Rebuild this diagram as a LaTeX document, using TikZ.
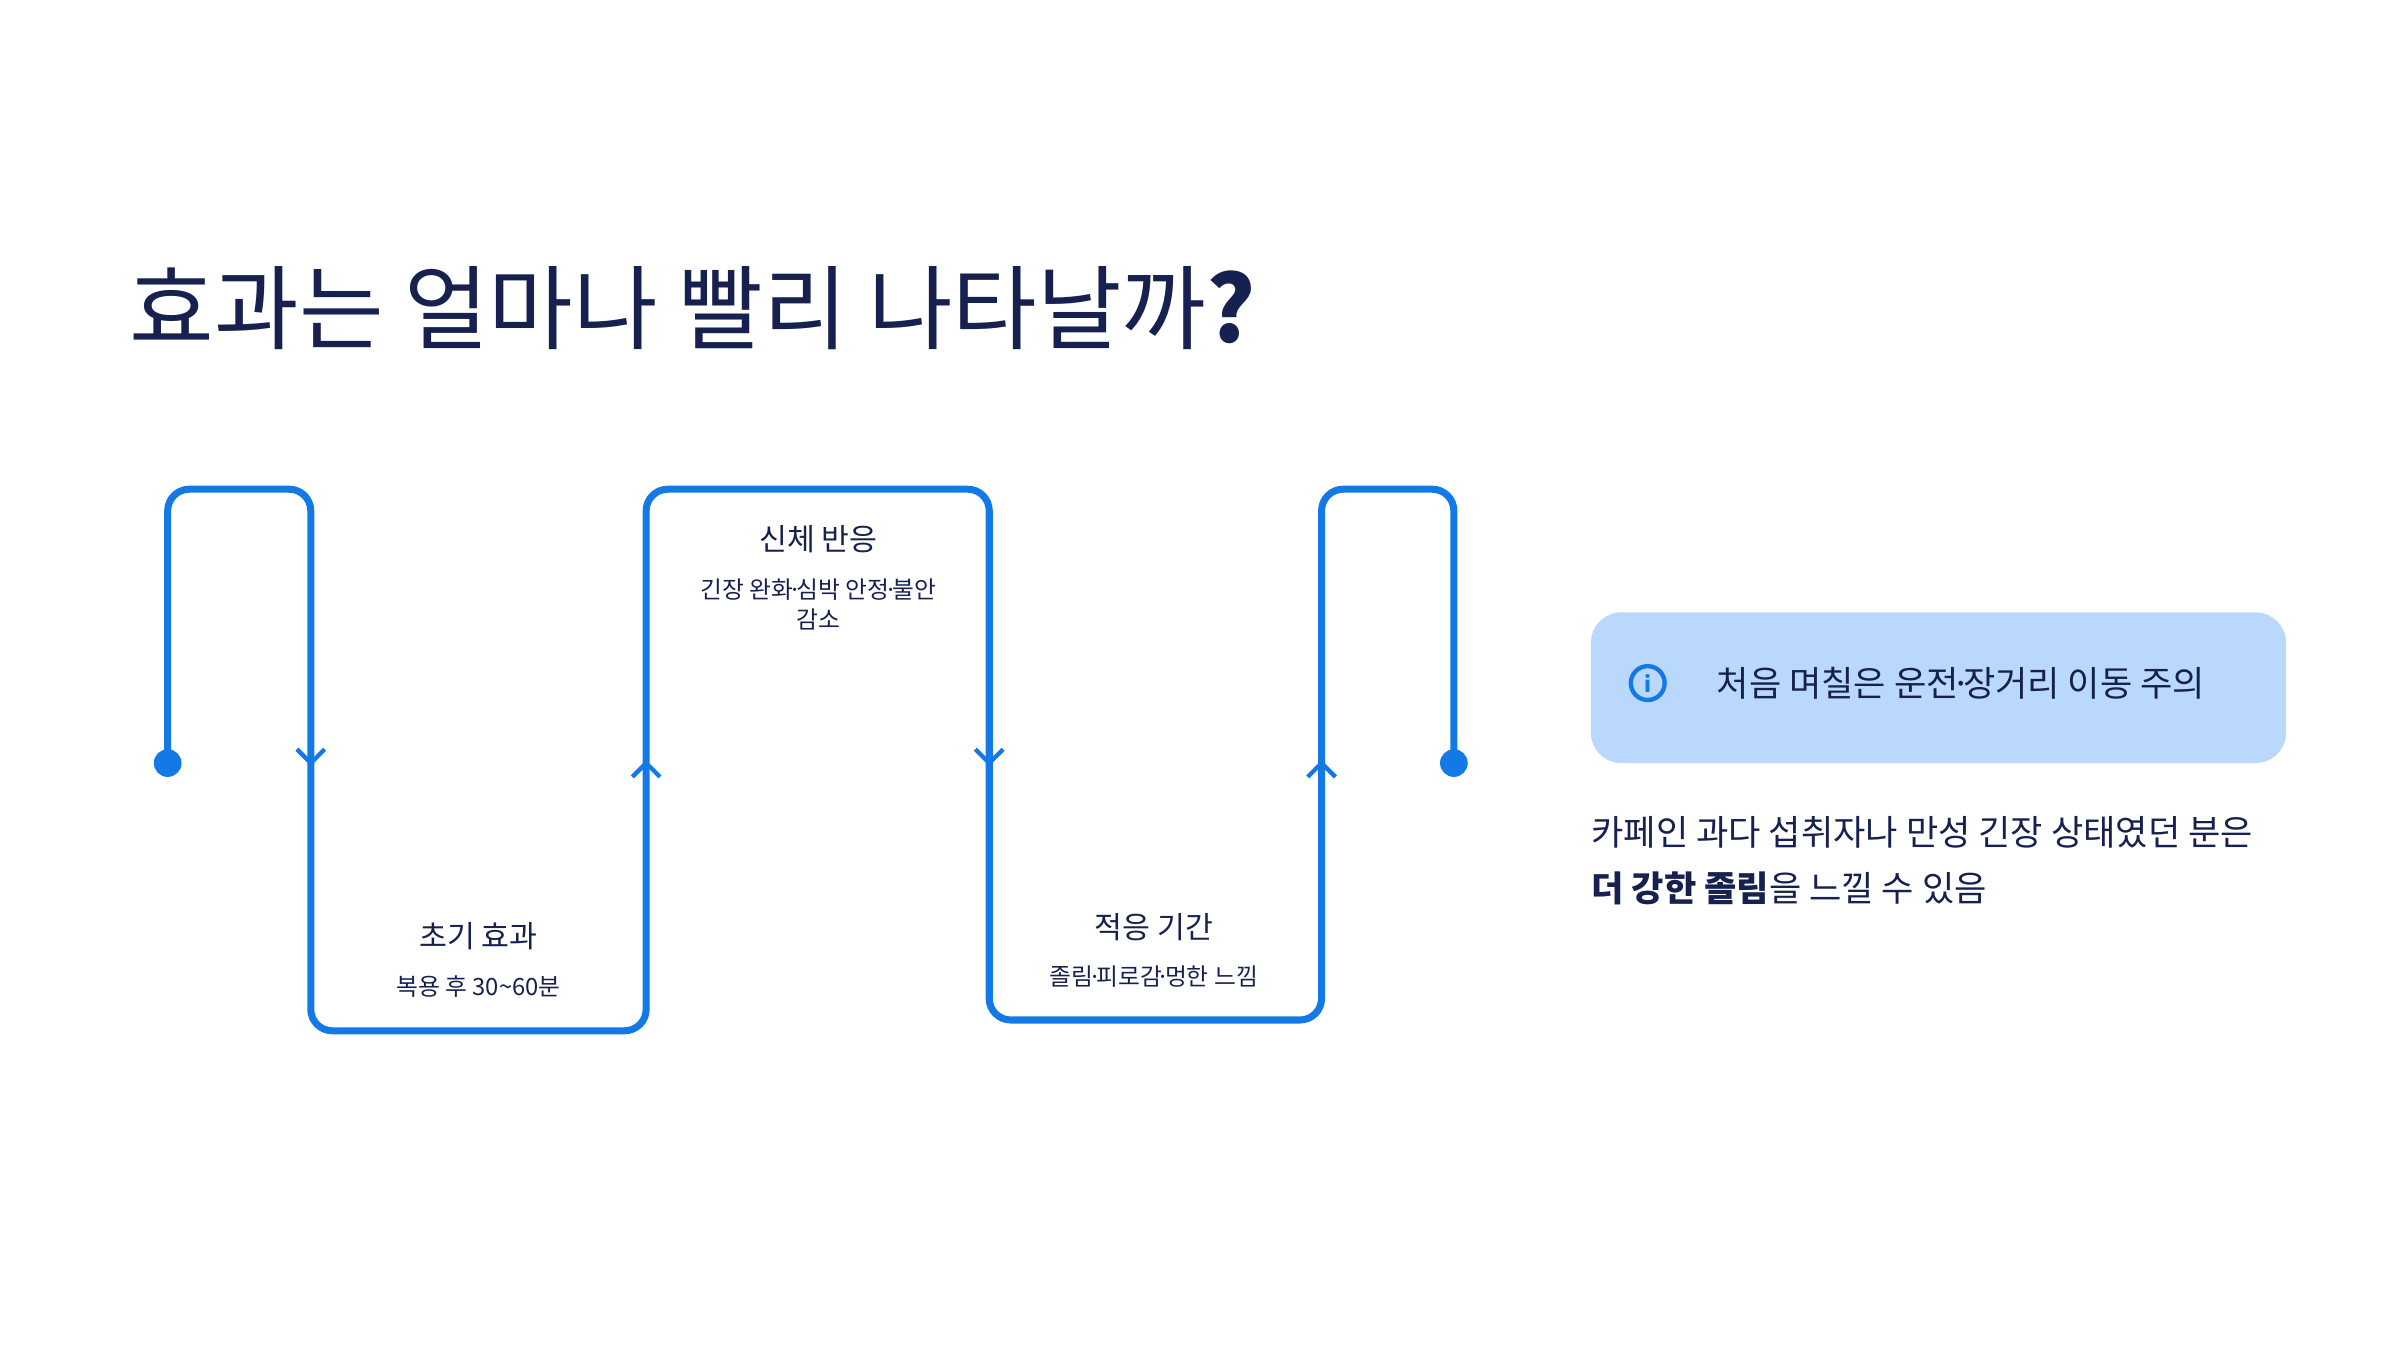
\documentclass[tikz,border=0pt]{standalone}
\usepackage{fontspec}
\setmainfont{Noto Sans CJK KR}
\usetikzlibrary{positioning}
\definecolor{navy}{HTML}{16214F}
\definecolor{lineblue}{HTML}{1379E6}
\definecolor{calloutfill}{HTML}{B9D8FB}
\newcommand{\md}{\kern-0.22em·\kern-0.22em}
\tikzset{
  flow/.style={lineblue,line width=1.3pt,rounded corners=0.14cm},
  chev/.style={lineblue,line width=0.8pt},
  head/.style={navy,font=\fontsize{5.6pt}{7pt}\selectfont},
  sub/.style={navy,font=\fontsize{4.4pt}{5.6pt}\selectfont,align=center,inner sep=1pt},
  body/.style={navy,font=\fontsize{6.5pt}{10.5pt}\selectfont,anchor=west,align=left}
}
\begin{document}
\begin{tikzpicture}
\useasboundingbox (0,0) rectangle (15.6,8.775);
% title
\node[navy,anchor=west,font=\fontsize{17pt}{20pt}\selectfont] (title) at (0.72,6.77) {효과는 얼마나 빨리 나타날까\textbf{?}};

% wave path
\coordinate (start) at (1.09,3.815);
\coordinate (stop) at (9.45,3.815);
\draw[flow] (start) |- (2.02,5.595) -- (2.02,2.075) -- (4.20,2.075) -- (4.20,5.595)
  -- (6.43,5.595) -- (6.43,2.145) -- (8.59,2.145) -- (8.59,5.595) -| (stop);
\fill[lineblue] (start) circle[radius=0.09];
\fill[lineblue] (stop) circle[radius=0.09];

% direction marks
\foreach \x/\s in {2.02/1,4.20/-1,6.43/1,8.59/-1}
  \draw[chev] (\x-0.09,3.815+\s*0.09) -- (\x,3.815) -- (\x+0.09,3.815+\s*0.09);

% stage labels
\node[head] (early) at (3.11,2.69) {초기 효과};
\node[sub,below=0cm of early] (earlysub) {복용 후 30\textasciitilde60분};
\node[head] (body) at (5.32,5.27) {신체 반응};
\node[sub,below=0cm of body] (bodysub) {긴장 완화\md 심박 안정\md 불안\\감소};
\node[head] (adapt) at (7.50,2.75) {적응 기간};
\node[sub,below=0cm of adapt] (adaptsub) {졸림\md 피로감\md 멍한 느낌};

% callout
\node[fill=calloutfill,rounded corners=0.2cm,minimum width=4.52cm,minimum height=0.98cm] (callout) at (12.60,4.305) {};
\node[lineblue,draw,circle,line width=0.8pt,inner sep=0pt,minimum size=0.22cm,font=\fontsize{4pt}{4pt}\selectfont\bfseries] (info) at (10.71,4.335) {i};
\node[body,right=0.2cm of info] (warn) {처음 며칠은 운전\md 장거리 이동 주의};
\node[body] (note) at (10.22,3.18) {카페인 과다 섭취자나 만성 긴장 상태였던 분은\\\textbf{더 강한 졸림}을 느낄 수 있음};
\end{tikzpicture}
\end{document}
